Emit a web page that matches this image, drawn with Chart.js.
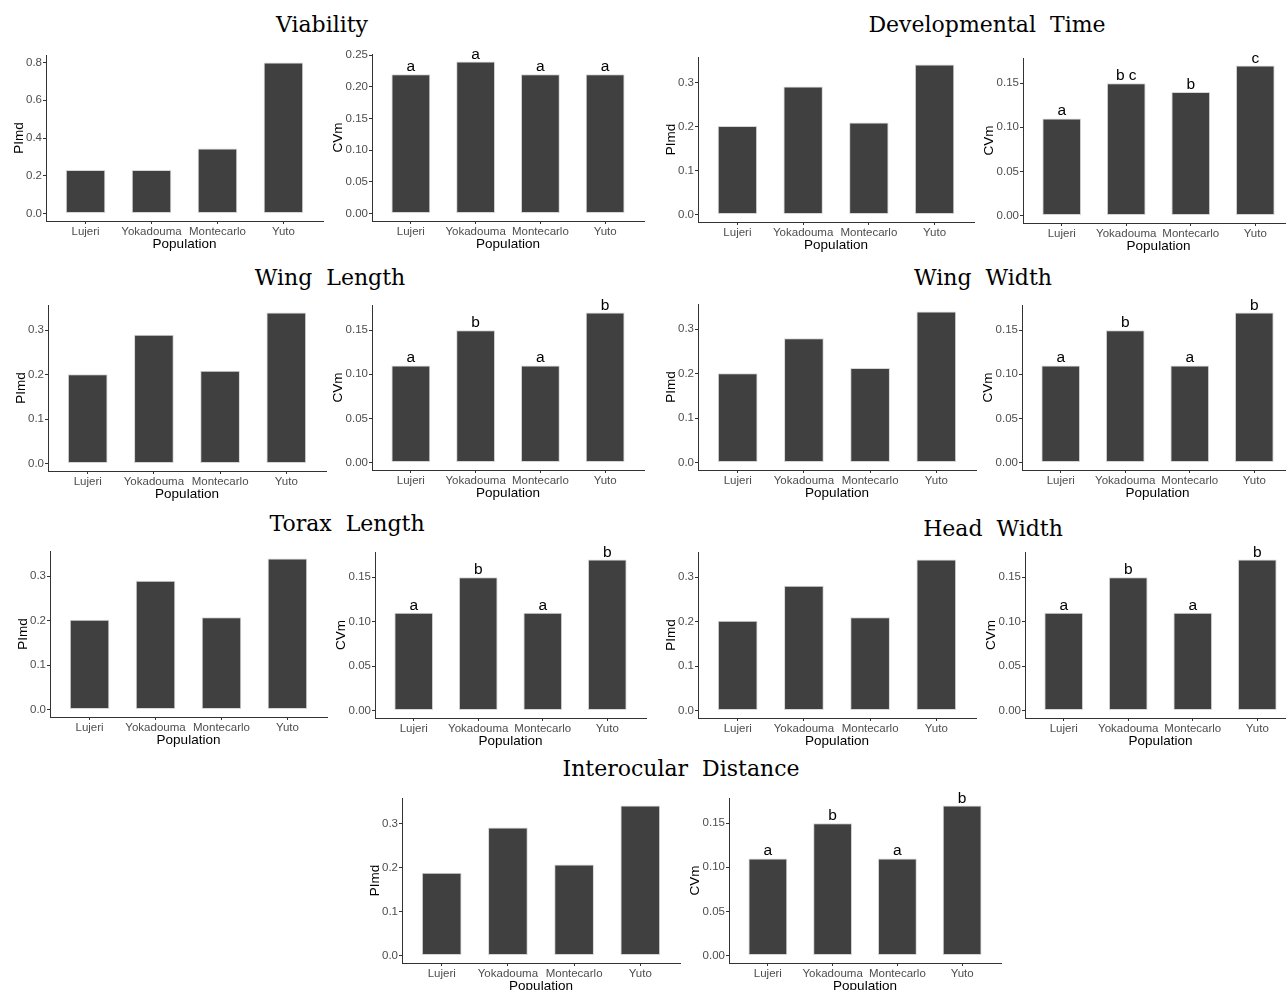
<!DOCTYPE html>
<html>
<head>
<meta charset="utf-8">
<script src="https://cdn.jsdelivr.net/npm/chart.js@4.4.1/dist/chart.umd.min.js"></script>
<style>
  html, body { margin: 0; padding: 0; background: #fff; overflow: hidden; }
  body { width: 1286px; height: 990px; position: relative; }
  .trait { position: absolute; font-family: "DejaVu Serif", serif; font-size: 22px; line-height: 22px;
           white-space: pre; transform: translateX(-50%); color: #000; }
  canvas { position: absolute; }
</style>
</head>
<body>
<script>
// populations on the x axis of every panel
const populations = ["Lujeri", "Yokadouma", "Montecarlo", "Yuto"];

// PImd / CVm values
const viabilityPImd = [0.23, 0.23, 0.345, 0.80];
const viabilityCVm = [0.22, 0.24, 0.22, 0.22];
const viabilityLetters = ["a", "a", "a", "a"];

const devTimePImd = [0.201, 0.291, 0.209, 0.341];
const devTimeCVm = [0.11, 0.15, 0.14, 0.17];
const devTimeLetters = ["a", "b c", "b", "c"];

const wingLengthPImd = [0.201, 0.290, 0.209, 0.340];
const wingLengthCVm = [0.11, 0.15, 0.11, 0.17];
const wingLengthLetters = ["a", "b", "a", "b"];

const wingWidthPImd = [0.201, 0.280, 0.213, 0.340];
const wingWidthCVm = [0.11, 0.15, 0.11, 0.17];
const wingWidthLetters = ["a", "b", "a", "b"];

const toraxPImd = [0.202, 0.290, 0.208, 0.340];
const toraxCVm = [0.11, 0.15, 0.11, 0.17];
const toraxLetters = ["a", "b", "a", "b"];

const headWidthPImd = [0.202, 0.281, 0.210, 0.340];
const headWidthCVm = [0.11, 0.15, 0.11, 0.17];
const headWidthLetters = ["a", "b", "a", "b"];

const interocularPImd = [0.188, 0.291, 0.207, 0.341];
const interocularCVm = [0.11, 0.15, 0.11, 0.17];
const interocularLetters = ["a", "b", "a", "b"];

// tick labels
const viabilityPImdTicks = [0, 0.2, 0.4, 0.6, 0.8];
const pimdTicks = [0, 0.1, 0.2, 0.3];
const viabilityCVmTicks = [0, 0.05, 0.1, 0.15, 0.2, 0.25];
const cvmTicks = [0, 0.05, 0.1, 0.15];

// trait titles: text, centre x, baseline y
const titles = [
  ["Viability", 322, 33],
  ["Developmental  Time", 987, 33],
  ["Wing  Length", 330, 286],
  ["Wing  Width", 983, 286],
  ["Torax  Length", 347, 532],
  ["Head  Width", 993, 537],
  ["Interocular  Distance", 681, 777],
];

// plot boxes: [left axis x, top, x-axis y, right]
const panels = [
  { values: viabilityPImd, ticks: viabilityPImdTicks, yTitle: "PImd", box: [46, 55, 221, 323] },
  { values: viabilityCVm, ticks: viabilityCVmTicks, yTitle: "CVm", letters: viabilityLetters, box: [372, 54, 221, 644] },
  { values: devTimePImd, ticks: pimdTicks, yTitle: "PImd", box: [698, 57, 222, 974] },
  { values: devTimeCVm, ticks: cvmTicks, yTitle: "CVm", letters: devTimeLetters, box: [1023, 58, 223, 1294] },
  { values: wingLengthPImd, ticks: pimdTicks, yTitle: "PImd", box: [48, 305, 471, 326] },
  { values: wingLengthCVm, ticks: cvmTicks, yTitle: "CVm", letters: wingLengthLetters, box: [372, 305, 470, 644] },
  { values: wingWidthPImd, ticks: pimdTicks, yTitle: "PImd", box: [698, 304, 470, 976] },
  { values: wingWidthCVm, ticks: cvmTicks, yTitle: "CVm", letters: wingWidthLetters, box: [1022, 305, 470, 1293] },
  { values: toraxPImd, ticks: pimdTicks, yTitle: "PImd", box: [50, 551, 717, 327] },
  { values: toraxCVm, ticks: cvmTicks, yTitle: "CVm", letters: toraxLetters, box: [375, 552, 718, 646] },
  { values: headWidthPImd, ticks: pimdTicks, yTitle: "PImd", box: [698, 552, 718, 976] },
  { values: headWidthCVm, ticks: cvmTicks, yTitle: "CVm", letters: headWidthLetters, box: [1025, 552, 718, 1296] },
  { values: interocularPImd, ticks: pimdTicks, yTitle: "PImd", box: [402, 798, 963, 680] },
  { values: interocularCVm, ticks: cvmTicks, yTitle: "CVm", letters: interocularLetters, box: [729, 798, 963, 1001] },
];

titles.forEach(([text, x, base]) => {
  const d = document.createElement("div");
  d.className = "trait";
  d.textContent = text;
  d.style.left = x + "px";
  d.style.top = (base - 19) + "px";
  document.body.appendChild(d);
});

// significance letters above each bar
function letterPlugin(letters) {
  return {
    id: "groupLetters",
    afterDatasetsDraw(chart) {
      if (!letters) return;
      const ctx = chart.ctx;
      ctx.save();
      ctx.fillStyle = "#000";
      ctx.font = '15.5px "Liberation Sans", Arial, sans-serif';
      ctx.textAlign = "center";
      ctx.textBaseline = "alphabetic";
      chart.getDatasetMeta(0).data.forEach((bar, i) => {
        ctx.fillText(letters[i], bar.x, bar.y - 3);
      });
      ctx.restore();
    },
  };
}

const tickFont = { family: "Liberation Sans", size: 11.5 };
const titleFont = { family: "Liberation Sans", size: 13.5 };

function makePanel(p) {
  const [L, T, B, R] = p.box;
  const yw = p.yTitle === "PImd" ? 35 : 42;
  const padTop = 24, padRight = 2, xh = 31;
  const decimals = p.yTitle === "PImd" ? 1 : 2;
  const w = yw + (R - L) + padRight;
  const h = padTop + (B - T) + xh;

  const canvas = document.createElement("canvas");
  canvas.width = w;
  canvas.height = h;
  canvas.style.left = (L - yw) + "px";
  canvas.style.top = (T - padTop) + "px";
  canvas.style.width = w + "px";
  canvas.style.height = h + "px";
  document.body.appendChild(canvas);

  const top = Math.max(...p.values);

  new Chart(canvas, {
    type: "bar",
    data: {
      datasets: [{
        data: p.values.map((v, i) => ({ x: i + 1, y: v })),
        backgroundColor: "#404040",
        borderColor: "#d6d6d6",
        borderWidth: 1,
        borderSkipped: false,
        barPercentage: 0.6,
        categoryPercentage: 1,
      }],
    },
    options: {
      responsive: false,
      animation: false,
      devicePixelRatio: 1,
      layout: { padding: { top: padTop, right: padRight, left: 0, bottom: 0 } },
      plugins: { legend: { display: false }, tooltip: { enabled: false } },
      scales: {
        x: {
          type: "linear",
          min: 0.4,
          max: 4.6,
          offset: false,
          afterBuildTicks: (s) => { s.ticks = populations.map((_, i) => ({ value: i + 1 })); },
          afterFit: (s) => { s.height = xh; },
          ticks: {
            callback: (v) => populations[Math.round(v) - 1],
            autoSkip: false,
            maxRotation: 0,
            padding: 1,
            color: "#4d4d4d",
            font: tickFont,
          },
          grid: { offset: false, drawOnChartArea: false, drawTicks: true, tickLength: 3, tickColor: "#333" },
          border: { color: "#333", width: 1 },
          title: { display: true, text: "Population", color: "#000", font: titleFont, padding: 0 },
        },
        y: {
          min: -0.05 * top,
          max: 1.05 * top,
          afterBuildTicks: (s) => { s.ticks = p.ticks.map((v) => ({ value: v })); },
          afterFit: (s) => { s.width = yw; },
          ticks: {
            callback: (v) => v.toFixed(decimals),
            padding: 1,
            color: "#4d4d4d",
            font: tickFont,
          },
          grid: { drawOnChartArea: false, drawTicks: true, tickLength: 3, tickColor: "#333" },
          border: { color: "#333", width: 1 },
          title: { display: true, text: p.yTitle, color: "#000", font: titleFont, padding: 0 },
        },
      },
    },
    plugins: [letterPlugin(p.letters)],
  });
}

panels.forEach(makePanel);
</script>
</body>
</html>
